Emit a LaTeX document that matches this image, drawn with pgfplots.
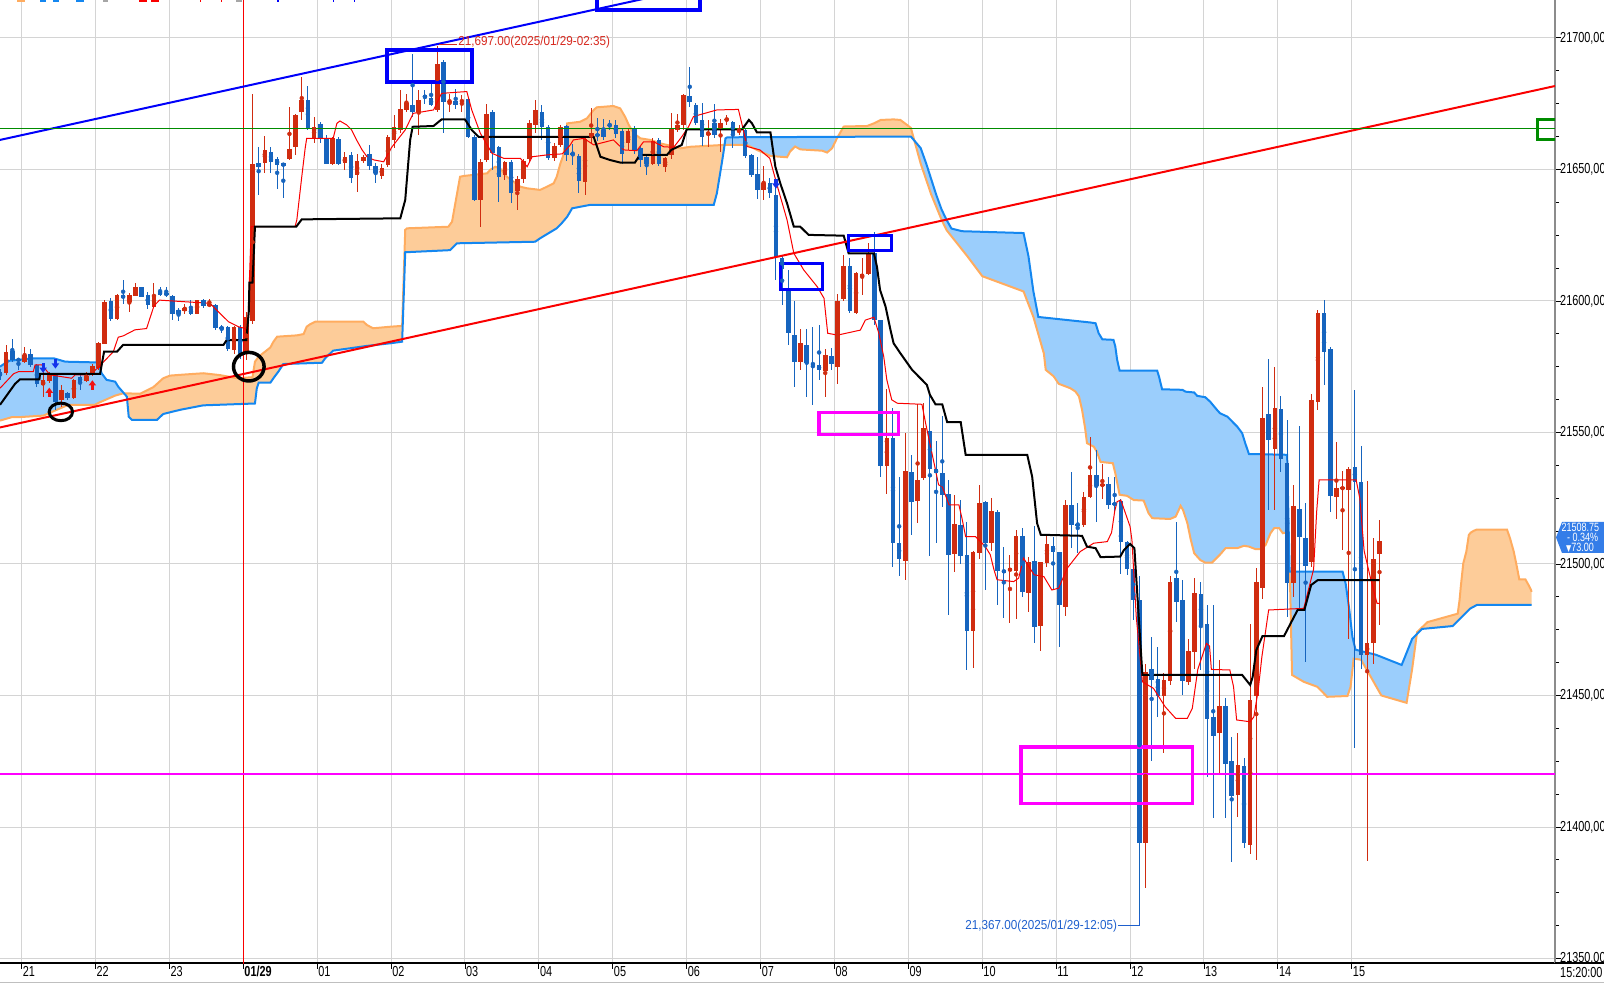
\documentclass[border=0pt]{standalone}
\usepackage{fontspec}
\setmainfont{Liberation Sans}
\newfontfamily\tickfont{Liberation Sans}[FakeStretch=0.75]
\newfontfamily\annfont{Liberation Sans}[FakeStretch=0.9]
\newfontfamily\symfont{DejaVu Sans}[FakeStretch=0.75]
\usepackage{pgfplots}
\pgfplotsset{compat=1.18}
\usepackage{pgfplotstable}
\usepgfplotslibrary{fillbetween}

\definecolor{cUp}{RGB}{208,44,16}
\definecolor{cDn}{RGB}{22,100,190}
\definecolor{spanAc}{RGB}{20,135,240}
\definecolor{spanBc}{RGB}{255,172,95}
\definecolor{fillA}{RGB}{155,206,252}
\definecolor{fillB}{RGB}{253,204,153}
\definecolor{gridc}{RGB}{212,212,212}
\definecolor{boxc}{RGB}{52,125,232}
\definecolor{arrB}{RGB}{20,50,235}
\definecolor{arrR}{RGB}{240,20,20}
\definecolor{annR}{RGB}{215,40,30}
\definecolor{annB}{RGB}{30,95,205}
\definecolor{trB}{RGB}{0,0,250}
\definecolor{trR}{RGB}{250,0,0}
\definecolor{grn}{RGB}{0,140,0}
\definecolor{mag}{RGB}{255,0,255}

\pgfdeclareplotmark{dnarr}{%
  \pgfpathrectangle{\pgfpoint{-1.6pt}{0pt}}{\pgfpoint{3.2pt}{4.8pt}}\pgfusepath{fill}%
  \pgfpathmoveto{\pgfpoint{-3.8pt}{0.4pt}}\pgfpathlineto{\pgfpoint{3.8pt}{0.4pt}}%
  \pgfpathlineto{\pgfpoint{0pt}{-4.8pt}}\pgfpathclose\pgfusepath{fill}}
\pgfdeclareplotmark{uparr}{%
  \pgfpathrectangle{\pgfpoint{-1.6pt}{-4.8pt}}{\pgfpoint{3.2pt}{4.8pt}}\pgfusepath{fill}%
  \pgfpathmoveto{\pgfpoint{-3.8pt}{-0.4pt}}\pgfpathlineto{\pgfpoint{3.8pt}{-0.4pt}}%
  \pgfpathlineto{\pgfpoint{0pt}{4.8pt}}\pgfpathclose\pgfusepath{fill}}
\pgfdeclareplotmark{ellA}{%
  \pgfpathellipse{\pgfpointorigin}{\pgfpoint{11.7pt}{0pt}}{\pgfpoint{0pt}{8.8pt}}\pgfusepath{stroke}}
\pgfdeclareplotmark{ellB}{%
  \pgfpathellipse{\pgfpointorigin}{\pgfpoint{15.3pt}{0pt}}{\pgfpoint{0pt}{14.3pt}}\pgfusepath{stroke}}

% 5-minute candles, k = index from 21:00 (k=36 is 00:00 on 01/29)
\pgfplotstableread{
k o h l c
-3 21572.8 21583.3 21572.0 21580.7
0 21576.9 21582.4 21576.5 21579.5
3 21568.1 21573.8 21563.6 21570.0
4 21569.7 21573.0 21569.0 21572.5
6 21562.4 21568.1 21559.8 21566.2
8 21563.3 21570.5 21563.0 21570.2
10 21569.6 21573.1 21569.3 21571.5
11 21571.9 21576.0 21571.5 21575.4
12 21574.4 21584.5 21574.0 21583.9
13 21583.7 21600.5 21583.5 21599.8
15 21593.0 21602.5 21592.8 21602.2
17 21599.8 21603.0 21596.0 21602.3
18 21602.0 21606.7 21602.0 21605.2
21 21597.9 21606.7 21597.2 21602.3
26 21596.3 21599.0 21595.0 21597.4
28 21595.3 21600.6 21595.0 21600.3
30 21598.1 21601.0 21598.0 21599.1
34 21581.3 21590.5 21580.0 21590.2
36 21580.0 21595.9 21577.5 21593.8
37 21592.5 21678.9 21591.5 21652.3
39 21652.6 21662.7 21648.8 21657.4
43 21654.0 21673.6 21653.5 21658.0
44 21658.6 21671.0 21655.5 21670.7
45 21671.9 21685.3 21669.0 21676.6
47 21661.8 21670.1 21660.0 21666.3
50 21652.1 21662.5 21651.5 21661.8
52 21652.6 21656.7 21650.0 21654.6
54 21647.9 21656.1 21641.5 21653.2
55 21653.2 21655.5 21652.5 21654.8
58 21647.5 21652.0 21646.5 21650.8
59 21651.7 21663.0 21651.0 21662.2
60 21661.2 21670.7 21658.0 21666.2
61 21665.0 21680.2 21664.0 21673.2
62 21672.6 21678.9 21672.0 21675.4
64 21671.9 21680.2 21663.1 21676.6
67 21672.6 21697.0 21672.0 21690.3
69 21675.8 21678.9 21671.9 21676.2
71 21675.8 21678.3 21671.9 21676.4
74 21638.4 21654.0 21628.2 21652.9
75 21653.6 21674.9 21653.0 21671.1
78 21647.9 21653.5 21646.0 21652.9
80 21641.9 21647.5 21634.6 21646.6
81 21646.3 21654.0 21645.0 21653.3
82 21654.2 21668.8 21653.0 21667.8
83 21666.9 21676.6 21664.0 21672.6
86 21654.2 21660.0 21653.5 21658.9
87 21659.3 21666.9 21658.5 21666.2
91 21645.3 21662.5 21640.3 21661.8
92 21661.8 21673.6 21660.0 21663.7
98 21659.9 21665.5 21657.4 21664.7
102 21652.3 21662.0 21651.7 21660.9
104 21651.0 21655.0 21649.1 21654.5
105 21655.5 21671.3 21654.0 21665.6
106 21665.2 21671.3 21664.5 21667.1
107 21666.9 21678.9 21665.0 21678.3
111 21663.1 21668.8 21658.7 21664.0
113 21665.0 21669.0 21656.8 21667.8
114 21669.0 21670.7 21667.0 21669.2
116 21664.4 21667.0 21663.0 21665.0
120 21642.4 21651.3 21638.6 21644.7
126 21576.9 21589.6 21574.0 21583.9
130 21573.5 21581.6 21563.6 21579.4
132 21575.0 21602.9 21568.7 21600.3
133 21601.0 21617.5 21600.0 21613.3
135 21595.5 21611.0 21595.0 21610.7
136 21609.2 21616.2 21602.2 21610.2
137 21610.5 21622.1 21610.0 21618.1
140 21537.3 21566.8 21526.7 21547.8
143 21501.3 21550.0 21494.0 21535.5
145 21524.1 21561.1 21515.5 21532.0
146 21532.9 21561.1 21532.0 21551.6
151 21503.7 21526.3 21497.1 21515.1
154 21474.7 21505.1 21460.7 21504.5
155 21504.3 21530.1 21502.0 21523.1
157 21507.9 21525.3 21505.0 21520.2
160 21497.2 21503.5 21477.5 21498.4
161 21497.5 21513.0 21479.0 21510.8
163 21489.1 21502.8 21481.9 21500.9
165 21476.5 21501.0 21467.1 21500.7
166 21500.3 21511.1 21499.0 21507.6
169 21483.8 21524.4 21480.3 21522.5
172 21514.6 21527.5 21514.0 21525.3
173 21525.6 21548.5 21525.0 21533.9
175 21529.7 21538.3 21525.0 21530.5
182 21394.0 21462.2 21376.7 21459.0
185 21449.9 21458.4 21428.0 21455.9
186 21455.6 21495.4 21454.0 21493.3
189 21455.2 21471.7 21454.0 21466.9
190 21466.6 21494.6 21460.3 21489.1
194 21435.8 21463.5 21420.4 21446.1
197 21412.1 21436.0 21403.9 21423.5
199 21393.1 21477.4 21390.0 21448.3
200 21449.8 21498.4 21387.4 21493.3
201 21490.8 21567.4 21486.9 21555.4
203 21543.7 21575.0 21520.5 21559.5
206 21492.7 21530.0 21487.6 21522.1
209 21500.9 21564.9 21499.0 21562.4
210 21561.7 21596.6 21558.6 21595.6
213 21525.6 21546.5 21517.0 21529.0
214 21528.5 21535.5 21505.3 21529.2
215 21528.4 21537.0 21471.7 21536.1
218 21465.5 21531.6 21387.0 21470.0
219 21470.0 21510.0 21462.0 21502.0
220 21504.0 21516.9 21477.0 21508.75
}\upT

\pgfplotstableread{
k o h l c
-4 21573.1 21574.0 21570.0 21571.5
-2 21581.0 21585.8 21577.0 21577.8
-1 21578.2 21578.5 21573.8 21577.3
1 21580.1 21582.0 21575.0 21575.7
2 21575.7 21576.0 21567.4 21568.7
5 21572.5 21572.8 21558.6 21561.7
7 21565.0 21565.5 21562.5 21563.3
9 21570.9 21571.9 21566.2 21569.1
14 21599.8 21601.0 21592.5 21593.0
16 21602.3 21608.2 21599.1 21601.0
19 21605.2 21605.5 21601.5 21601.7
20 21602.2 21603.6 21597.2 21598.5
22 21603.6 21605.5 21602.0 21602.3
23 21603.0 21605.5 21601.7 21602.5
24 21601.9 21602.3 21592.8 21595.3
25 21596.8 21597.2 21592.5 21595.3
27 21596.9 21600.3 21594.6 21595.3
29 21600.3 21601.0 21597.5 21598.1
31 21598.4 21599.0 21589.0 21589.6
32 21590.2 21591.0 21588.0 21589.2
33 21590.2 21590.5 21581.0 21582.0
35 21590.2 21591.0 21578.0 21579.4
38 21652.3 21658.4 21640.3 21651.0
40 21656.5 21658.4 21648.8 21653.0
41 21654.0 21654.9 21642.8 21651.9
42 21652.3 21652.5 21639.0 21651.4
46 21676.4 21681.7 21665.0 21665.6
48 21667.3 21668.2 21660.0 21661.8
49 21662.2 21663.0 21652.0 21652.3
51 21661.6 21662.5 21651.5 21652.1
53 21655.5 21656.7 21645.0 21646.6
56 21655.9 21659.3 21650.0 21651.4
57 21651.3 21652.3 21645.0 21648.8
63 21674.5 21694.1 21670.0 21671.9
65 21678.3 21680.2 21675.0 21677.0
66 21677.0 21682.7 21674.0 21674.5
68 21691.0 21691.5 21663.7 21675.8
70 21676.2 21680.8 21673.0 21674.5
72 21677.0 21677.5 21662.0 21662.4
73 21662.4 21663.0 21638.0 21638.4
76 21671.9 21672.6 21650.0 21656.1
77 21658.6 21659.0 21637.7 21647.2
79 21652.9 21653.5 21637.3 21640.9
84 21672.0 21674.5 21661.2 21666.2
85 21666.2 21667.0 21653.5 21654.2
88 21666.5 21667.0 21653.0 21655.5
89 21656.5 21659.9 21651.7 21655.7
90 21655.2 21656.0 21640.9 21645.7
93 21663.5 21669.8 21661.0 21662.7
94 21665.0 21669.4 21661.2 21662.4
95 21667.1 21668.8 21665.0 21666.5
96 21666.9 21668.8 21662.0 21663.7
97 21664.7 21665.5 21652.3 21655.9
99 21665.4 21666.5 21656.0 21657.6
100 21658.4 21659.0 21651.0 21653.8
101 21654.8 21655.5 21647.9 21652.3
103 21661.2 21662.0 21651.5 21652.3
108 21677.9 21689.0 21674.0 21675.8
109 21674.5 21675.4 21666.9 21667.8
110 21668.8 21675.4 21658.9 21662.2
112 21667.8 21675.1 21662.0 21663.1
115 21668.2 21668.5 21658.0 21663.7
117 21665.0 21665.5 21654.5 21655.1
118 21655.5 21656.0 21647.0 21647.9
119 21648.3 21654.6 21638.6 21642.2
121 21645.0 21646.6 21639.0 21640.9
122 21640.3 21645.0 21608.0 21616.8
123 21616.5 21617.0 21598.5 21612.0
124 21604.2 21611.8 21583.2 21587.7
125 21587.0 21600.3 21567.4 21576.9
127 21583.5 21589.6 21563.6 21576.5
128 21576.5 21590.2 21560.4 21575.6
129 21575.6 21590.8 21570.0 21573.7
131 21579.1 21582.0 21573.7 21576.0
134 21613.3 21616.2 21595.3 21596.3
138 21618.1 21626.3 21591.0 21592.7
139 21592.7 21593.0 21533.2 21537.3
141 21547.8 21559.2 21499.0 21508.1
142 21508.1 21533.2 21495.6 21502.0
144 21535.1 21541.5 21511.1 21523.7
147 21550.6 21564.3 21503.2 21536.3
148 21536.2 21546.9 21508.1 21534.5
149 21534.5 21556.3 21521.8 21526.3
150 21526.6 21532.0 21480.6 21503.7
152 21514.9 21524.4 21500.0 21503.2
153 21503.5 21516.1 21459.7 21474.7
156 21523.5 21524.0 21490.1 21508.1
158 21519.9 21520.6 21484.4 21497.5
159 21497.8 21506.6 21479.8 21496.7
162 21510.8 21513.6 21487.6 21489.5
164 21501.2 21514.5 21470.1 21476.2
167 21506.9 21510.4 21490.1 21504.7
168 21504.5 21504.7 21468.6 21484.4
170 21522.5 21535.1 21506.0 21515.1
171 21515.3 21523.1 21504.3 21515.0
174 21533.9 21543.4 21516.1 21529.8
176 21530.5 21533.2 21521.0 21522.5
177 21523.1 21533.2 21519.3 21522.7
178 21524.0 21525.0 21496.5 21508.5
179 21508.5 21509.0 21496.0 21498.3
180 21498.3 21498.5 21478.7 21486.3
181 21486.5 21495.4 21367.0 21394.0
183 21460.0 21472.3 21425.2 21456.1
184 21456.5 21468.5 21441.9 21449.9
187 21494.7 21516.1 21478.0 21485.7
188 21486.3 21494.1 21450.2 21455.6
191 21488.6 21493.3 21459.7 21476.8
192 21477.2 21484.4 21419.1 21441.0
193 21441.9 21484.4 21403.6 21434.7
195 21446.1 21448.9 21403.3 21423.9
196 21425.4 21434.3 21386.8 21412.1
198 21423.2 21426.1 21391.9 21394.0
202 21557.0 21578.0 21520.5 21547.4
204 21559.0 21563.9 21535.0 21539.9
205 21538.3 21554.8 21480.0 21492.9
207 21520.9 21552.5 21482.0 21510.4
208 21510.0 21523.3 21462.8 21499.4
211 21595.6 21600.4 21568.1 21580.7
212 21581.8 21582.7 21519.9 21525.9
216 21536.8 21566.0 21430.0 21531.3
217 21531.3 21545.0 21460.0 21465.5
}\dnT

% leading span (blue line)
\pgfplotstableread{
k a
-4 21575.0
-2.6 21577.2
1.4 21578.2
4.7 21578.2
6.6 21576.9
12 21576.6
12.5 21572.5
13.3 21570.0
14.7 21569.3
15.2 21567.4
15.9 21565.5
16.6 21563.6
16.9 21556.0
17.4 21554.8
21.5 21554.8
22.5 21557.0
25.25 21558.6
29 21560.3
37.4 21561.0
37.7 21566.8
38.0 21568.9
39.9 21568.9
40.4 21570.6
41.2 21573.1
42.0 21576.0
48.3 21576.5
48.8 21578.2
50.1 21581.1
55.6 21582.9
59.4 21583.9
61.3 21584.5
61.8 21618.5
69.1 21619.3
70.2 21621.9
82.9 21622.5
83.7 21623.8
86.4 21627.6
87.2 21629.5
88.1 21632.0
88.9 21635.2
91.8 21636.5
111.9 21636.5
112.4 21640.9
113.2 21652.3
113.5 21656.8
113.8 21661.8
114.1 21662.2
143.9 21662.5
145.5 21658.1
146.4 21652.2
148.0 21640.5
148.9 21634.7
149.7 21630.8
150.5 21627.5
152.2 21626.5
162.2 21625.8
163.0 21617.0
163.8 21603.6
164.6 21593.9
173.05 21591.8
173.9 21591.5
174.4 21587.7
175.0 21585.4
176.8 21585.2
177.1 21582.7
177.4 21577.6
177.8 21573.5
183.9 21573.5
184.2 21571.2
184.7 21566.4
188.0 21566.2
188.5 21565.5
189.9 21565.2
190.4 21563.9
191.7 21563.4
192.5 21561.7
193.6 21558.6
194.1 21557.3
195.3 21556.0
196.1 21554.1
196.9 21552.2
197.7 21549.7
198.2 21545.9
198.8 21541.8
205.0 21541.5
205.4 21497.1
214.0 21497.1
214.5 21492.6
214.8 21487.6
215.1 21482.5
215.6 21472.3
216.1 21467.4
219.4 21465.5
223.6 21461.6
225.3 21471.5
226.9 21475.3
231.9 21476.4
234.7 21483.0
235.8 21484.4
244.7 21484.4
}\cloudA

% leading span (orange line)
\pgfplotstableread{
k b
-4 21554.5
-2.1 21555.8
-1.0 21555.8
3.05 21556.4
5.2 21558.6
7.1 21560.5
11.4 21560.5
12.25 21561.5
14.7 21564.0
16.05 21564.9
18.75 21564.7
20.9 21567.2
22.5 21570.6
23.6 21571.6
25.25 21571.9
29.0 21572.5
31.7 21571.8
34.5 21570.6
37.0 21571.0
37.4 21576.9
38.0 21578.8
39.9 21582.3
40.4 21584.5
41.0 21586.4
44.2 21586.9
45.3 21587.4
45.8 21590.2
46.4 21591.2
47.2 21592.1
55.0 21592.1
55.6 21590.8
56.6 21589.6
59.4 21590.2
61.3 21590.5
61.8 21627.0
62.1 21627.6
68.8 21628.2
69.4 21630.1
70.7 21647.2
71.3 21647.5
75.1 21648.5
75.6 21649.8
76.4 21651.0
77.2 21650.4
78.3 21647.2
80.5 21643.4
81.6 21642.8
83.7 21642.2
84.8 21643.4
85.9 21644.7
86.4 21647.2
87.0 21652.3
87.5 21655.5
88.1 21667.5
90.2 21668.1
91.3 21669.4
92.4 21672.6
92.9 21673.6
95.6 21674.1
96.7 21673.2
97.5 21670.0
98.1 21666.9
98.9 21663.7
100.0 21661.8
101.6 21661.2
103.2 21659.9
104.3 21659.3
106.5 21658.0
108.1 21658.6
113.5 21659.3
117.3 21659.3
118.9 21657.4
121.1 21655.1
123.8 21654.6
124.3 21656.8
125.1 21658.7
125.95 21657.6
129.5 21657.1
130.3 21656.4
131.1 21658.0
131.9 21661.8
133.0 21666.3
136.8 21666.5
137.9 21667.5
139.0 21668.8
141.1 21669.0
142.2 21668.8
143.9 21665.8
145.5 21652.2
147.2 21640.5
148.9 21630.8
149.7 21626.9
153.0 21617.2
155.5 21609.4
162.2 21603.6
163.8 21593.9
165.5 21580.0
165.8 21573.8
167.1 21571.3
167.9 21568.5
169.8 21566.8
170.6 21565.6
171.2 21563.7
171.7 21558.6
172.2 21551.6
172.5 21545.9
173.6 21544.6
174.1 21542.7
174.7 21538.8
176.7 21538.3
177.1 21534.5
177.8 21526.3
179.0 21525.9
180.1 21524.3
181.7 21524.1
182.5 21519.3
183.1 21517.4
186.0 21517.1
186.9 21518.0
187.4 21520.5
187.7 21522.1
188.1 21520.5
188.8 21515.5
189.3 21509.8
189.9 21504.1
190.9 21501.5
191.7 21500.5
192.8 21500.5
194.2 21503.8
195.0 21506.0
196.9 21506.0
198.0 21506.9
198.8 21506.6
199.9 21505.6
200.7 21505.6
201.5 21507.2
202.3 21511.7
202.9 21513.6
203.7 21513.6
204.3 21511.7
205.0 21512.0
205.5 21490.0
205.8 21457.8
207.7 21455.2
209.9 21453.3
211.5 21449.5
214.8 21449.8
215.3 21453.3
215.8 21464.0
217.0 21463.6
220.3 21450.0
224.4 21447.2
225.3 21460.0
226.1 21474.1
227.8 21477.9
232.7 21481.1
233.0 21486.3
233.2 21491.4
233.6 21500.2
234.1 21504.7
234.5 21511.0
234.8 21511.9
235.3 21512.6
235.8 21513.1
240.7 21513.1
241.2 21509.7
241.8 21504.7
242.3 21499.0
242.7 21494.1
243.7 21494.1
244.2 21492.0
244.6 21490.1
244.7 21489.4
}\cloudB

% conversion line (thin red)
\pgfplotstableread{
k t
-4 21566.8
-1.8 21572.3
-1.0 21573.1
1.4 21573.1
1.7 21575.7
2.8 21575.7
4.1 21571.9
7.65 21570.6
8.2 21571.9
10.6 21571.9
12 21574.8
14.4 21580.7
15.2 21586.2
16 21586.7
17.9 21589.0
19.8 21589.5
21 21598.1
21.9 21600.3
25.2 21599.8
30.1 21599.1
31.7 21595.3
33.1 21592.1
34.7 21590.2
35.8 21589.5
36.2 21588.0
36.8 21628.2
43.9 21628.2
44.2 21630.8
45 21647.2
45.55 21658.0
45.8 21661.8
50.1 21661.8
50.7 21667.5
51.2 21668.4
52.3 21666.9
53.1 21665.0
53.9 21661.2
54.8 21657.4
55.6 21654.8
56.7 21653.6
58.3 21652.9
59.6 21658.4
61.8 21665.0
63.1 21671.3
66.4 21672.6
67.7 21678.9
71.8 21679.6
72.6 21672.6
74 21663.7
75.9 21656.1
77.8 21654.2
80.5 21654.2
81.6 21651.0
82.4 21654.8
84.8 21655.5
87.3 21655.9
88.6 21659.3
89.1 21661.2
90.8 21661.8
92.4 21659.3
95.6 21661.2
97.3 21657.4
99.4 21657.1
100.5 21660.5
102.1 21660.5
103.8 21658.6
105.4 21658.4
106.7 21662.4
107.8 21666.2
108.6 21670.1
112.4 21672.6
115.9 21672.8
116.7 21665.0
117.3 21658.7
119.4 21657.4
121 21654.2
121.5 21649.8
122.4 21642.2
123.8 21630.8
124.9 21618.1
126.5 21611.8
128.7 21605.4
129.8 21601.0
130.4 21587.7
132 21587.0
135.7 21588.9
136.5 21592.7
137.9 21593.8
138.7 21587.7
139.5 21578.8
140 21570.0
140.8 21562.4
141.7 21561.1
145.7 21560.7
146.3 21553.5
147.1 21544.6
147.9 21535.8
148.4 21530.1
149 21529.4
150.1 21522.5
151.7 21522.5
152.2 21517.4
152.8 21510.4
154.4 21510.4
156 21506.6
156.8 21503.5
157.4 21497.8
157.9 21494.0
160.6 21493.3
161.4 21494.6
162.2 21502.2
163.9 21495.9
165.5 21495.2
166.8 21490.1
167.9 21490.8
169.3 21498.4
171.4 21504.7
173.6 21507.9
175.8 21508.5
176.5 21512.0
177 21520.0
177.4 21523.7
178 21524.3
179.5 21514.2
179.8 21509.1
180.5 21480.0
181.5 21455.2
183.3 21452.7
185.2 21445.7
186.9 21441.3
188.8 21441.3
189.6 21445.1
190.5 21460.0
191.9 21469.8
192.4 21468.8
192.7 21459.9
195.7 21459.7
196.3 21453.3
196.8 21440.7
199 21440.0
199.6 21441.9
200.3 21452.0
200.9 21464.7
202 21482.5
205.6 21482.9
207.7 21483.1
209.3 21498.0
209.8 21520.0
210.2 21532.0
216.2 21532.0
216.8 21525.0
217.5 21505.0
218.5 21495.0
219.6 21485.0
220 21485.0
}\tenkan

% base line (black)
\pgfplotstableread{
k j
-4 21560.5
-1.55 21568.5
-0.74 21570.2
2.4 21570.2
2.5 21572.3
12.25 21572.3
12.9 21580.7
15 21580.7
16 21583.3
32.3 21583.3
32.8 21585.1
36 21585.1
36.4 21596.0
36.5 21607.0
37 21607.0
37.4 21628.2
44.1 21628.2
45 21631.0
61 21631.4
61.8 21638.4
62.6 21661.2
63 21666.2
66.4 21666.5
67.7 21669.0
71.5 21669.0
72.6 21665.0
73.7 21662.4
92.4 21662.4
93.5 21654.8
95 21653.6
96.7 21652.6
99.1 21652.6
99.9 21655.5
104.3 21655.5
105 21657.4
106.7 21659.3
107.5 21665.2
116.5 21665.2
117.6 21668.8
118.1 21667.5
118.9 21664.1
121.1 21664.1
121.9 21651.0
122.7 21644.7
123.8 21637.1
124.9 21628.2
125.95 21628.2
127.3 21625.1
133 21624.8
133.8 21618.1
137.9 21618.1
138.4 21613.0
138.9 21604.2
139.8 21597.8
140.6 21588.9
141.1 21583.9
142.2 21580.1
144.1 21573.8
146.5 21568.1
147 21564.3
147.9 21560.7
149 21560.7
149.8 21553.9
152 21553.9
152.8 21541.5
162.8 21541.5
163.6 21533.2
164.4 21515.5
165 21511.1
171.7 21510.7
172.5 21506.6
173.9 21506.0
174.7 21502.6
177.9 21502.8
178.5 21505.3
179.5 21507.6
180.2 21506.0
181.5 21457.8
197.7 21457.8
199 21454.0
199.4 21457.0
200 21467.3
201 21472.6
204.5 21472.6
206.7 21482.5
207.8 21482.5
208.9 21492.0
210 21493.9
220 21493.9
}\kijun

\pagecolor{white}
\begin{document}
\begin{tikzpicture}
\begin{axis}[
  at={(0pt,20pt)}, anchor=south west,
  scale only axis, width=1555pt, height=963pt,
  xmin=-4, xmax=248.5, ymin=21348.3, ymax=21714.4,
  axis x line*=bottom, axis y line*=right,
  x axis line style={black, line width=1.5pt},
  y axis line style={black!45, line width=2pt},
  tick align=outside,
  major tick length=6pt, minor tick length=4pt,
  every tick/.style={black, line width=0.8pt},
  xtick={-0.5,11.5,23.5,35.5,47.5,59.5,71.5,83.5,95.5,107.5,119.5,131.5,143.5,155.5,167.5,179.5,191.5,203.5,215.5},
  xticklabels={21,22,23,{\textbf{01/29}},01,02,03,04,05,06,07,08,09,10,11,12,13,14,15},
  ytick={21350,21400,...,21700},
  minor y tick num=3,
  scaled y ticks=false,
  grid=major,
  major grid style={gridc, line width=1pt},
  tick label style={font=\tickfont\fontsize{14.5}{14.5}\selectfont, black},
  xticklabel style={anchor=north west, inner sep=0pt, xshift=1pt, yshift=3pt},
  yticklabel style={anchor=west, inner sep=0pt, xshift=-1pt,
    /pgf/number format/.cd, fixed, fixed zerofill, precision=2, use comma, 1000 sep={}, assume math mode=true},
  clip=true,
]
% cloud
\addplot[name path=A, draw=none, forget plot] table[x=k, y=a] {\cloudA};
\addplot[name path=B, draw=none, forget plot] table[x=k, y=b] {\cloudB};
\addplot[fill=fillA, draw=none, forget plot] fill between[of=A and B, soft clip={domain=-4:16.25}];
\addplot[fill=fillB, draw=none, forget plot] fill between[of=A and B, soft clip={domain=16.25:113.65}];
\addplot[fill=fillA, draw=none, forget plot] fill between[of=A and B, soft clip={domain=113.65:132.0}];
\addplot[fill=fillB, draw=none, forget plot] fill between[of=A and B, soft clip={domain=132.0:144.5}];
\addplot[fill=fillA, draw=none, forget plot] fill between[of=A and B, soft clip={domain=144.5:226.05}];
\addplot[fill=fillB, draw=none, forget plot] fill between[of=A and B, soft clip={domain=226.05:244.7}];
\addplot[spanBc, line width=2pt, forget plot] table[x=k, y=b] {\cloudB};
\addplot[spanAc, line width=2pt, forget plot] table[x=k, y=a] {\cloudA};
% 00:00 line
\addplot[trR, line width=1pt, forget plot] coordinates {(35.5,21340) (35.5,21720)};
% candles: wicks
\addplot[cUp, only marks, mark=none, forget plot, error bars/.cd, y dir=both, y explicit, error mark=none,
  error bar style={draw=cUp, line width=1pt}]
  table[x=k, y expr={(\thisrow{h}+\thisrow{l})/2}, y error expr={(\thisrow{h}-\thisrow{l})/2}] {\upT};
\addplot[cDn, only marks, mark=none, forget plot, error bars/.cd, y dir=both, y explicit, error mark=none,
  error bar style={draw=cDn, line width=1pt}]
  table[x=k, y expr={(\thisrow{h}+\thisrow{l})/2}, y error expr={(\thisrow{h}-\thisrow{l})/2}] {\dnT};
% candles: bodies
\addplot[cUp, only marks, mark=none, forget plot, error bars/.cd, y dir=both, y explicit, error mark=none,
  error bar style={draw=cUp, line width=4.6pt}]
  table[x=k, y expr={(\thisrow{o}+\thisrow{c})/2}, y error expr={max(abs(\thisrow{c}-\thisrow{o})/2,0.2)}] {\upT};
\addplot[cDn, only marks, mark=none, forget plot, error bars/.cd, y dir=both, y explicit, error mark=none,
  error bar style={draw=cDn, line width=4.6pt}]
  table[x=k, y expr={(\thisrow{o}+\thisrow{c})/2}, y error expr={max(abs(\thisrow{c}-\thisrow{o})/2,0.2)}] {\dnT};
% indicator lines
\addplot[trR, line width=1pt, forget plot] table[x=k, y=t] {\tenkan};
\addplot[black, line width=2pt, forget plot] table[x=k, y=j] {\kijun};
% trend lines and levels
\addplot[trB, line width=2pt, forget plot] coordinates {(-4,21661.2) (110,21719.7)};
\addplot[trR, line width=2pt, forget plot] coordinates {(-4,21551.9) (248.5,21681.7)};
\addplot[grn, line width=1.5pt, forget plot] coordinates {(-4,21665.5) (248.5,21665.5)};
\addplot[mag, line width=1.5pt, forget plot] coordinates {(-4,21420.2) (248.5,21420.2)};
% boxes
\addplot[trB, line width=4pt, line cap=rect, forget plot] coordinates {(93,21710.6) (109.6,21710.6) (109.6,21730) (93,21730) (93,21710.6)};
\addplot[trB, line width=4pt, line cap=rect, forget plot] coordinates {(58.9,21683.3) (72.7,21683.3) (72.7,21695.3) (58.9,21695.3) (58.9,21683.3)};
\addplot[trB, line width=3pt, line cap=rect, forget plot] coordinates {(122.8,21604.5) (129.6,21604.5) (129.6,21614.1) (122.8,21614.1) (122.8,21604.5)};
\addplot[trB, line width=3pt, line cap=rect, forget plot] coordinates {(133.75,21619.1) (140.7,21619.1) (140.7,21624.9) (133.75,21624.9) (133.75,21619.1)};
\addplot[mag, line width=3.5pt, line cap=rect, forget plot] coordinates {(129,21549.3) (141.9,21549.3) (141.9,21557.6) (129,21557.6) (129,21549.3)};
\addplot[mag, line width=3.5pt, line cap=rect, forget plot] coordinates {(161.8,21408.9) (189.6,21408.9) (189.6,21430.4) (161.8,21430.4) (161.8,21408.9)};
\addplot[grn, line width=3pt, line cap=rect, forget plot] coordinates {(245.7,21661.5) (249.5,21661.5) (249.5,21669.0) (245.7,21669.0) (245.7,21661.5)};
% circles
\addplot[only marks, mark=ellA, black, mark options={line width=3pt}, forget plot] coordinates {(5.88,21557.8)};
\addplot[only marks, mark=ellB, black, mark options={line width=3.5pt}, forget plot] coordinates {(36.4,21575.0)};
% signal arrows
\addplot[only marks, mark=dnarr, color=arrB, fill=arrB, forget plot] coordinates {(3,21574.5) (5,21576.1) (122,21644.5)};
\addplot[only marks, mark=uparr, color=arrR, fill=arrR, forget plot] coordinates {(4,21565.2) (11,21568.0)};
% high / low annotations
\addplot[annR, line width=0.8pt, forget plot] coordinates {(67.3,21697.4) (70.2,21697.4)};
\node[anchor=west, inner sep=0pt, text=annR, font=\annfont\fontsize{13}{13}\selectfont] at (axis cs:70.4,21698.2) {21,697.00(2025/01/29-02:35)};
\addplot[annB, line width=1pt, forget plot] coordinates {(177.5,21362.4) (181,21362.4) (181,21367)};
\node[anchor=east, inner sep=0pt, text=annB, font=\annfont\fontsize{13}{13}\selectfont] at (axis cs:177.4,21362.4) {21,367.00(2025/01/29-12:05)};
\end{axis}
% extensions outside the plot area
\draw[black, line width=1.5pt] (1555pt,20pt) -- (1604pt,20pt);
\draw[black!25, line width=1pt] (0,0.5pt) -- (1604pt,0.5pt);
% current price tag
\fill[boxc] (1556pt,445.5pt) -- (1562pt,461pt) -- (1605pt,461pt) -- (1605pt,430pt) -- (1562pt,430pt) -- cycle;
\node[anchor=west, inner sep=0pt, text=white, font=\tickfont\fontsize{12}{12}\selectfont] at (1561.5pt,455.5pt) {21508.75};
\node[anchor=west, inner sep=0pt, text=white, font=\tickfont\fontsize{12}{12}\selectfont] at (1567pt,445.5pt) {- 0.34\%};
\node[anchor=west, inner sep=0pt, text=white, font=\tickfont\fontsize{12}{12}\selectfont] at (1566pt,435pt) {{\symfont\fontsize{9}{9}\selectfont ▼}73.00};
\node[anchor=west, inner sep=0pt, font=\tickfont\fontsize{14.5}{14.5}\selectfont] at (1560pt,10.5pt) {15:20:00};
% cut legend swatches along the top edge
\fill[spanBc] (17pt,981pt) rectangle (25pt,983pt);
\fill[spanAc] (40pt,981pt) rectangle (46pt,983pt);
\fill[spanAc] (53pt,981pt) rectangle (59pt,983pt);
\fill[spanAc] (76pt,981pt) rectangle (84pt,983pt);
\fill[black!35] (103pt,981pt) rectangle (108pt,983pt);
\fill[trR] (139pt,981pt) rectangle (147pt,983pt);
\fill[trR] (151pt,981pt) rectangle (159pt,983pt);
\fill[trR] (200pt,981pt) rectangle (201pt,983pt);
\fill[trR] (221pt,981pt) rectangle (222pt,983pt);
\fill[black!35] (236pt,981pt) rectangle (242pt,983pt);
\fill[trB] (277pt,981pt) rectangle (279pt,983pt);
\fill[trB] (333pt,981pt) rectangle (334pt,983pt);
\fill[trB] (354pt,981pt) rectangle (355pt,983pt);
\pgfresetboundingbox
\useasboundingbox (0,0) rectangle (1604pt,983pt);
\end{tikzpicture}
\end{document}
